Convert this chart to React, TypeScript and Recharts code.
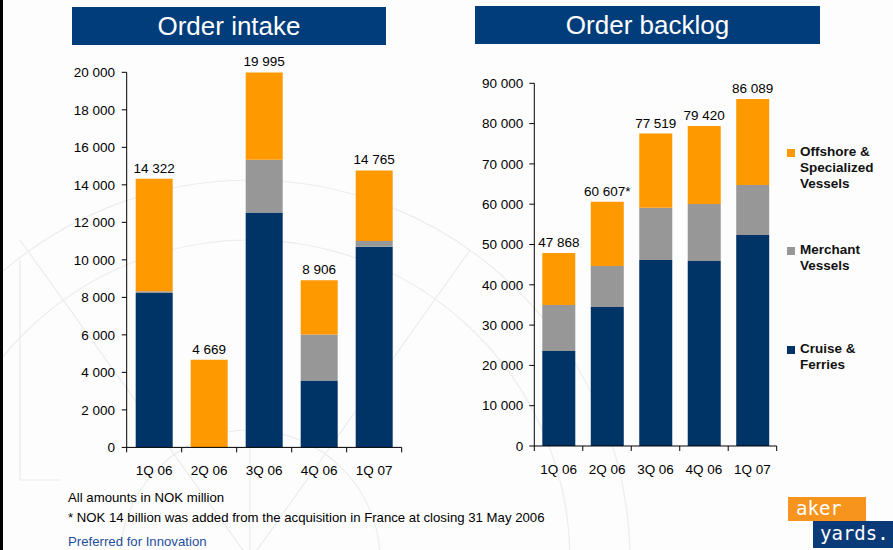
import { BarChart, Bar, XAxis, YAxis, LabelList } from 'recharts';

const quarters = ['1Q 06', '2Q 06', '3Q 06', '4Q 06', '1Q 07'];

const intakeCruise = [8230, 0, 12520, 3570, 10700];
const intakeMerchant = [90, 0, 2820, 2450, 300];
const intakeOffshore = [6002, 4669, 4655, 2886, 3765];
const intakeTotals = [14322, 4669, 19995, 8906, 14765];
const intakeTicks = [0, 2000, 4000, 6000, 8000, 10000, 12000, 14000, 16000, 18000, 20000];

const backlogCruise = [23570, 34490, 46150, 45900, 52360];
const backlogMerchant = [11420, 10180, 12990, 14150, 12400];
const backlogOffshore = [12878, 15937, 18379, 19370, 21329];
const backlogTotals = [47868, 60607, 77519, 79420, 86089];
const backlogNotes = ['', '*', '', '', ''];
const backlogTicks = [0, 10000, 20000, 30000, 40000, 50000, 60000, 70000, 80000, 90000];

const seriesNames = ['Offshore & Specialized Vessels', 'Merchant Vessels', 'Cruise & Ferries'];

const NAVY = '#003366';
const GREY = '#979797';
const ORANGE = '#ff9900';
const TITLE_BG = '#023d7b';
const FONT = '"Liberation Sans", Arial, sans-serif';

const TICK_SIZE = 5;
const X_TICK_MARGIN = 13;

function fmt(v: number): string {
  return String(v).replace(/\B(?=(\d{3})+(?!\d))/g, ' ');
}

function QuarterTick(props: any) {
  const { x, y, payload, index } = props;
  const half = payload && typeof payload.offset === 'number' && payload.offset > 0 ? payload.offset : 27;
  const y0 = y - TICK_SIZE - X_TICK_MARGIN;
  const last = index === quarters.length - 1;
  return (
    <g>
      <line x1={x - half} y1={y0} x2={x - half} y2={y0 + TICK_SIZE} stroke="#000" />
      {last && <line x1={x + half} y1={y0} x2={x + half} y2={y0 + TICK_SIZE} stroke="#000" />}
      <text x={x} y={y} dy="0.71em" textAnchor="middle" fontSize={13.5} fill="#000" fontFamily={FONT}>
        {payload.value}
      </text>
    </g>
  );
}

function totalLabel(totals: number[], notes?: string[]) {
  return (p: any) => {
    const i = p.index ?? 0;
    const txt = fmt(totals[i]) + (notes ? notes[i] : '');
    return (
      <text
        x={p.x + p.width / 2}
        y={p.y - 6}
        textAnchor="middle"
        fontSize={13.5}
        fill="#000"
        fontFamily={FONT}
      >
        {txt}
      </text>
    );
  };
}

function TitleBox({ left, top, width, text }: { left: number; top: number; width: number; text: string }) {
  return (
    <div
      style={{
        position: 'absolute',
        left,
        top,
        width,
        height: 38,
        background: TITLE_BG,
        color: '#fff',
        fontSize: 26,
        lineHeight: '38px',
        textAlign: 'center',
        fontFamily: FONT,
      }}
    >
      {text}
    </div>
  );
}

export default function App() {
  const intakeData = quarters.map((q, i) => ({
    quarter: q,
    cruise: intakeCruise[i],
    merchant: intakeMerchant[i],
    offshore: intakeOffshore[i],
  }));
  const backlogData = quarters.map((q, i) => ({
    quarter: q,
    cruise: backlogCruise[i],
    merchant: backlogMerchant[i],
    offshore: backlogOffshore[i],
  }));

  const legendItems = [
    { name: seriesNames[0], color: ORANGE, top: 144 },
    { name: seriesNames[1], color: GREY, top: 242 },
    { name: seriesNames[2], color: NAVY, top: 341 },
  ];
  const legendLines: Record<string, string[]> = {
    [seriesNames[0]]: ['Offshore &', 'Specialized', 'Vessels'],
    [seriesNames[1]]: ['Merchant', 'Vessels'],
    [seriesNames[2]]: ['Cruise &', 'Ferries'],
  };

  const axisTick = { fontSize: 13.5, fill: '#000', fontFamily: FONT };
  const noteStyle = { position: 'absolute' as const, left: 68, fontSize: 13.2, color: '#000' };

  return (
    <div
      style={{
        position: 'absolute',
        left: 0,
        top: 0,
        width: 893,
        height: 550,
        overflow: 'hidden',
        background: '#fdfdfd',
        fontFamily: FONT,
      }}
    >
      {/* faint compass drawing in the background */}
      <svg width={893} height={550} style={{ position: 'absolute', left: 0, top: 0 }}>
        <g fill="none" stroke="#ececec" strokeWidth={1.2}>
          <circle cx={250} cy={560} r={380} />
          <circle cx={250} cy={560} r={320} />
          <circle cx={250} cy={560} r={130} />
          <line x1={250} y1={560} x2={20} y2={240} />
          <line x1={250} y1={560} x2={470} y2={250} />
          <line x1={250} y1={560} x2={250} y2={180} />
          <path d="M20 260 L20 480 L60 480" />
        </g>
      </svg>

      <div style={{ position: 'absolute', left: 0, top: 0, width: 3, height: 550, background: '#000' }} />

      <TitleBox left={72} top={7} width={314} text="Order intake" />
      <TitleBox left={475} top={6} width={345} text="Order backlog" />

      <div style={{ position: 'absolute', left: 60, top: 50 }}>
        <BarChart
          width={347}
          height={428}
          data={intakeData}
          margin={{ top: 22.3, right: 5.3, left: 6.7, bottom: 0 }}
        >
          <XAxis
            dataKey="quarter"
            stroke="#000"
            tickLine={false}
            tickSize={TICK_SIZE}
            tickMargin={X_TICK_MARGIN}
            interval={0}
            height={30.6}
            tick={<QuarterTick />}
          />
          <YAxis
            domain={[0, 20000]}
            ticks={intakeTicks}
            interval={0}
            width={60}
            stroke="#000"
            tickSize={TICK_SIZE}
            tickMargin={6.7}
            tickFormatter={fmt}
            tick={axisTick}
          />
          <Bar dataKey="cruise" stackId="a" fill={NAVY} barSize={37} isAnimationActive={false} />
          <Bar dataKey="merchant" stackId="a" fill={GREY} barSize={37} isAnimationActive={false} />
          <Bar dataKey="offshore" stackId="a" fill={ORANGE} barSize={37} isAnimationActive={false}>
            <LabelList dataKey="offshore" content={totalLabel(intakeTotals)} />
          </Bar>
        </BarChart>
      </div>

      <div style={{ position: 'absolute', left: 470, top: 60 }}>
        <BarChart
          width={312}
          height={416.6}
          data={backlogData}
          margin={{ top: 23.3, right: 5.3, left: 4.3, bottom: 0 }}
        >
          <XAxis
            dataKey="quarter"
            stroke="#000"
            tickLine={false}
            tickSize={TICK_SIZE}
            tickMargin={X_TICK_MARGIN}
            interval={0}
            height={30.6}
            tick={<QuarterTick />}
          />
          <YAxis
            domain={[0, 90000]}
            ticks={backlogTicks}
            interval={0}
            width={60}
            stroke="#000"
            tickSize={TICK_SIZE}
            tickMargin={6}
            tickFormatter={fmt}
            tick={axisTick}
          />
          <Bar dataKey="cruise" stackId="a" fill={NAVY} barSize={33} isAnimationActive={false} />
          <Bar dataKey="merchant" stackId="a" fill={GREY} barSize={33} isAnimationActive={false} />
          <Bar dataKey="offshore" stackId="a" fill={ORANGE} barSize={33} isAnimationActive={false}>
            <LabelList dataKey="offshore" content={totalLabel(backlogTotals, backlogNotes)} />
          </Bar>
        </BarChart>
      </div>

      {legendItems.map((it) => (
        <div key={it.name} style={{ position: 'absolute', left: 787, top: it.top }}>
          <div
            style={{
              position: 'absolute',
              left: 0,
              top: 5,
              width: 8,
              height: 8,
              background: it.color,
            }}
          />
          <div
            style={{
              position: 'absolute',
              left: 13,
              top: 0,
              width: 100,
              fontSize: 13.5,
              fontWeight: 'bold',
              lineHeight: '16px',
              color: '#111',
            }}
          >
            {legendLines[it.name].map((l) => (
              <div key={l}>{l}</div>
            ))}
          </div>
        </div>
      ))}

      <div style={{ ...noteStyle, top: 490 }}>All amounts in NOK million</div>
      <div style={{ ...noteStyle, top: 510 }}>
        * NOK 14 billion was added from the acquisition in France at closing 31 May 2006
      </div>
      <div style={{ ...noteStyle, top: 534, color: '#1f4f9c' }}>Preferred for Innovation</div>

      <div
        style={{
          position: 'absolute',
          left: 788,
          top: 497,
          width: 78,
          height: 24,
          background: '#f7941d',
          color: '#fff',
          fontSize: 19,
          lineHeight: '22px',
          paddingLeft: 8,
          boxSizing: 'border-box',
          fontFamily: '"DejaVu Sans Mono", monospace',
        }}
      >
        aker
      </div>
      <div
        style={{
          position: 'absolute',
          left: 813,
          top: 521,
          width: 80,
          height: 27,
          background: '#0a3a78',
          color: '#fff',
          fontSize: 19,
          lineHeight: '24px',
          paddingLeft: 7,
          boxSizing: 'border-box',
          fontFamily: '"DejaVu Sans Mono", monospace',
        }}
      >
        yards.
      </div>
    </div>
  );
}
